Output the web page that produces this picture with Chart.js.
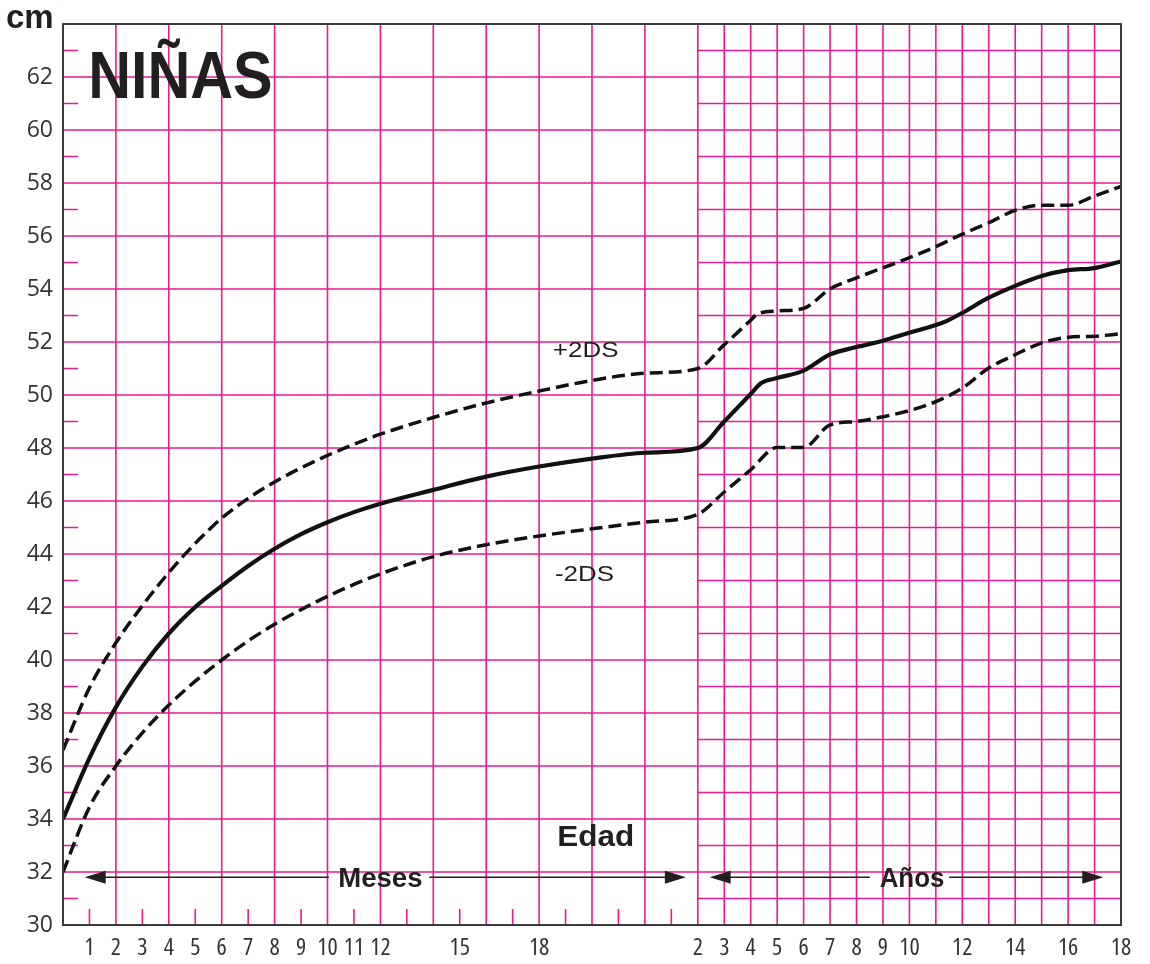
<!DOCTYPE html>
<html><head><meta charset="utf-8">
<script src="https://cdn.jsdelivr.net/npm/chart.js@4.4.1/dist/chart.umd.min.js"></script>
<style>html,body{margin:0;padding:0;background:#fff;}#wrap{width:1150px;height:964px;position:relative;}</style>
</head><body><div id="wrap"><canvas id="c" width="1150" height="964"></canvas></div>
<script>
// ---- Data: head circumference (cm), girls ----
// Ages in months (0-24)
const monthAges = [0,1,2,3,4,5,6,7,8,9,10,11,12,14,16,18,20,22,24];
const medianMonthCm = [34.0,36.3,38.22,39.75,41.0,42.0,42.8,43.55,44.2,44.75,45.2,45.58,45.9,46.42,46.92,47.3,47.6,47.82,48.0];
const upperMonthCm  = [36.6,38.95,40.65,42.05,43.3,44.4,45.35,46.1,46.72,47.25,47.72,48.14,48.52,49.15,49.7,50.15,50.55,50.82,51.0];
const lowerMonthCm  = [32.0,34.45,36.0,37.25,38.3,39.2,40.0,40.72,41.35,41.9,42.4,42.85,43.25,43.9,44.35,44.68,44.95,45.2,45.5];
// Ages in years (after 2 years)
const medianYears  = [3,4,4.4,5,6,7,8,9,10,11,11.4,12,13,14,15,16,17,18];
const medianYearCm = [49.0,50.04,50.45,50.64,50.92,51.53,51.81,52.05,52.35,52.64,52.79,53.1,53.67,54.12,54.49,54.71,54.79,55.04];
const upperYears   = [3,4,4.25,5,6,7,8,9,10,11,12,13,14,15,16,17,18];
const upperYearCm  = [51.9,52.82,53.05,53.17,53.27,54.0,54.42,54.8,55.18,55.6,56.07,56.5,56.97,57.16,57.16,57.51,57.87];
const lowerYears   = [3,4,5,6,7,8,9,10,11,12,13,14,15,16,17,18];
const lowerYearCm  = [46.34,47.18,48.02,48.02,48.87,49.0,49.18,49.41,49.75,50.26,51.02,51.52,51.97,52.18,52.22,52.31];
// Tick labels
const monthTickLabels = [1,2,3,4,5,6,7,8,9,10,11,12,15,18];
const yearTickLabels  = [2,3,4,5,6,7,8,9,10,12,14,16,18];
const cmTickLabels    = [30,32,34,36,38,40,42,44,46,48,50,52,54,56,58,60,62];

// Composite age axis: months 0..24 -> 0..24, years 2..18 -> 24..40
const YEAR_OFFSET = 22;
const toPoints = (mAges, mVals, yAges, yVals) =>
  mAges.map((a,i)=>({x:a, y:mVals[i]})).concat(yAges.map((a,i)=>({x:a+YEAR_OFFSET, y:yVals[i]})));

const GRID = '#ec1a8e';
const INK = '#231f20';

const gridPlugin = {
  id:'chartGrid',
  beforeDatasetsDraw(chart){
    const {ctx, chartArea:a, scales:{x, y}} = chart;
    ctx.save();
    ctx.strokeStyle = GRID; ctx.lineWidth = 1.6;
    ctx.beginPath();
    const xSplit = x.getPixelForValue(24);
    for (let v = 31; v <= 63; v++) {
      const py = y.getPixelForValue(v);
      if (v % 2 === 0) { ctx.moveTo(a.left, py); ctx.lineTo(a.right, py); }
      else {
        ctx.moveTo(a.left, py); ctx.lineTo(a.left + 15, py);
        ctx.moveTo(xSplit, py); ctx.lineTo(a.right, py);
      }
    }
    for (let m = 1; m <= 24; m++) {
      const px = x.getPixelForValue(m);
      ctx.moveTo(px, a.bottom);
      ctx.lineTo(px, m % 2 === 0 ? a.top : a.bottom - 16);
    }
    for (let yr = 3; yr <= 17; yr++) {
      const px = x.getPixelForValue(yr + YEAR_OFFSET);
      ctx.moveTo(px, a.bottom); ctx.lineTo(px, a.top);
    }
    ctx.stroke();
    ctx.restore();
  },
  afterDatasetsDraw(chart){
    const {ctx, chartArea:a, scales:{x, y}} = chart;
    ctx.save();
    ctx.strokeStyle = '#3a3a3a'; ctx.lineWidth = 2;
    ctx.strokeRect(a.left, a.top, a.right - a.left, a.bottom - a.top);
    ctx.fillStyle = INK;
    const txt = (t, xv, yv, font, align, sx) => {
      ctx.save();
      ctx.font = font; ctx.textAlign = align; ctx.textBaseline = 'alphabetic';
      const px = x.getPixelForValue(xv), py = y.getPixelForValue(yv);
      ctx.translate(px, py); ctx.scale(sx || 1, 1);
      ctx.fillText(t, 0, 0);
      ctx.restore();
    };
    txt('+2DS', 18.52, 51.45, '22px "Liberation Sans", Arial, sans-serif', 'left', 1.18);
    txt('-2DS', 18.6, 43.0, '22px "Liberation Sans", Arial, sans-serif', 'left', 1.18);
    txt('Edad', 20.14, 33.0, 'bold 30px "Liberation Sans", Arial, sans-serif', 'center', 1.05);
    txt('Meses', 12.0, 31.43, 'bold 27px "Liberation Sans", Arial, sans-serif', 'center', 1.02);
    txt('Años', 32.1, 31.43, 'bold 27px "Liberation Sans", Arial, sans-serif', 'center', 0.96);
    txt('NIÑAS', 0.95, 61.22, 'bold 67px "Liberation Sans", Arial, sans-serif', 'left', 0.885);
    const ay = y.getPixelForValue(31.8);
    const P = v => x.getPixelForValue(v);
    ctx.strokeStyle = INK; ctx.lineWidth = 1.5;
    ctx.beginPath();
    ctx.moveTo(P(1.5), ay); ctx.lineTo(P(10.05), ay);
    ctx.moveTo(P(13.85), ay); ctx.lineTo(P(22.8), ay);
    ctx.moveTo(P(25.2), ay); ctx.lineTo(P(30.5), ay);
    ctx.moveTo(P(33.5), ay); ctx.lineTo(P(38.6), ay);
    ctx.stroke();
    const head = (tip, dir) => {
      const tx = P(tip);
      ctx.beginPath();
      ctx.moveTo(tx, ay);
      ctx.lineTo(tx - dir*21, ay - 6.5);
      ctx.lineTo(tx - dir*21, ay + 6.5);
      ctx.closePath(); ctx.fill();
    };
    head(0.82, -1); head(23.55, 1); head(24.45, -1); head(39.33, 1);
    ctx.restore();
    ctx.save();
    ctx.fillStyle = INK; ctx.font = 'bold 33px "Liberation Sans", Arial, sans-serif';
    ctx.textAlign = 'left'; ctx.textBaseline = 'alphabetic';
    ctx.fillText('cm', 6, a.top + 4);
    ctx.restore();
  }
};

const lineStyle = {pointRadius:0, borderColor:'#111', fill:false, cubicInterpolationMode:'monotone'};

new Chart(document.getElementById('c'), {
  type:'line',
  data:{datasets:[
    Object.assign({label:'+2DS', data:toPoints(monthAges, upperMonthCm, upperYears, upperYearCm), borderWidth:3.5, borderDash:[13,6]}, lineStyle),
    Object.assign({label:'Mediana', data:toPoints(monthAges, medianMonthCm, medianYears, medianYearCm), borderWidth:4.2}, lineStyle),
    Object.assign({label:'-2DS', data:toPoints(monthAges, lowerMonthCm, lowerYears, lowerYearCm), borderWidth:3.5, borderDash:[13,6]}, lineStyle)
  ]},
  options:{
    responsive:false, animation:false, devicePixelRatio:1,
    layout:{padding:{left:0, right:29, top:24, bottom:0}},
    plugins:{legend:{display:false}, tooltip:{enabled:false}},
    scales:{
      x:{type:'linear', min:0, max:40,
        grid:{display:false, drawTicks:false}, border:{display:false},
        afterBuildTicks:(ax)=>{ ax.ticks = monthTickLabels.concat(yearTickLabels.map(v=>v+YEAR_OFFSET)).map(v=>({value:v})); },
        afterFit:(s)=>{ s.height = 39; },
        ticks:{autoSkip:false, maxRotation:0, minRotation:0, padding:9, color:'#333',
          font:{family:'"Open Sans", "DejaVu Sans", sans-serif', size:24, weight:'400 condensed'},
          callback:(v)=> v <= 23 ? String(v) : String(v - YEAR_OFFSET)}
      },
      y:{type:'linear', min:30, max:64,
        grid:{display:false, drawTicks:false}, border:{display:false},
        afterBuildTicks:(ax)=>{ ax.ticks = cmTickLabels.map(v=>({value:v})); },
        afterFit:(s)=>{ s.width = 63; },
        ticks:{padding:10, color:'#333', font:{family:'"Open Sans", sans-serif', size:23}}
      }
    }
  },
  plugins:[gridPlugin]
});
</script></body></html>
